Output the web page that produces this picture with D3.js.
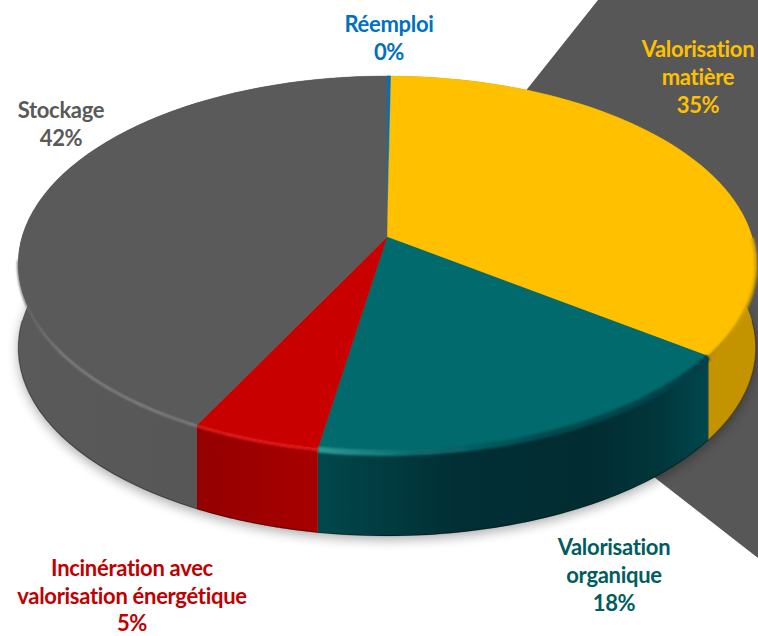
<!DOCTYPE html>
<html><head><meta charset="utf-8">
<script src="https://cdn.jsdelivr.net/npm/d3@7/dist/d3.min.js"></script>
<style>html,body{margin:0;padding:0;background:#fff}svg{display:block}
text{font-family:Lato,"Open Sans",sans-serif;font-weight:700;font-size:22px;text-anchor:middle;letter-spacing:-.3px}</style>
</head><body><svg id="c" width="758" height="636"></svg>
<script>
const categories = ["Réemploi","Valorisation matière","Valorisation organique","Incinération avec valorisation énergétique","Stockage"];
const values = [0.2,34.9,17.5,4.9,42.5];
const percentLabels = ["0%","35%","18%","5%","42%"];
const labelLines = [["Réemploi"],["Valorisation","matière"],["Valorisation","organique"],["Incinération avec","valorisation énergétique"],["Stockage"]];
const colors = ["#0070C0","#FFC000","#006A6C","#C80000","#5A5A5A"];
const textColors = ["#0070C0","#FFC000","#005C5E","#C00000","#595959"];
const wallStops = [
 [[0,"#005a9a"],[1,"#005a9a"]],
 [[0,"#a88000"],[1,"#c49400"]],
 [[0,"#01474d"],[.12,"#01373c"],[.3,"#012c32"],[.65,"#012f35"],[1,"#01484c"]],
 [[0,"#a80000"],[1,"#940000"]],
 [[0,"#5a5a5a"],[.6,"#565656"],[1,"#5e5e5e"]]
];
const rimStops = [
 [[0,"#0070C0"],[1,"#0070C0"]],
 [[0,"#b88c00"],[1,"#d6a400"]],
 [[0,"#2f9a98"],[.25,"#0a6a6c"],[.6,"#014a50"],[1,"#01404a"]],
 [[0,"#f02424"],[1,"#f02424"]],
 [[0,"#8c8c8c"],[.75,"#8c8c8c"],[.95,"#626262"],[1,"#5a5a5a"]]
];
const rimWidths = [0,3,6,2.2,1.8];
const labelAnchors = [[389,32],[698,57],[614,555],[132,576],[61,118]];
const labelSteps = [28.2,28.2,28.2,27.5,28.2];

const apex={x:387,y:237},K=365,KY=184.1,C=-0.1436,depth=84;
const svg=d3.select("#c");
const defs=svg.append("defs");
defs.append("filter").attr("id","sh").attr("x","-10%").attr("y","-10%").attr("width","120%").attr("height","130%")
  .append("feGaussianBlur").attr("stdDeviation",6);
defs.append("filter").attr("id","soft").attr("filterUnits","userSpaceOnUse").attr("x",0).attr("y",0).attr("width",758).attr("height",636)
  .append("feGaussianBlur").attr("stdDeviation",1.3);
defs.append("filter").attr("id","tiny").attr("filterUnits","userSpaceOnUse").attr("x",0).attr("y",0).attr("width",758).attr("height",636)
  .append("feGaussianBlur").attr("stdDeviation",.5);

// perspective projection of a pie angle on the disc
const proj=(a,dy=0)=>{const u=Math.sin(a),v=-Math.cos(a),d=1+C*v;
  return [apex.x+K*u/d, apex.y+KY*v/d+dy];};
const line=d3.line();
const pie=d3.pie().sort(null).startAngle(0).endAngle(2*Math.PI);
const arcs=pie(values);
const samples=(a0,a1)=>d3.range(0,61).map(i=>a0+(a1-a0)*i/60);
const addGrad=(id,x1,x2,stops)=>{
  defs.append("linearGradient").attr("id",id).attr("gradientUnits","userSpaceOnUse")
    .attr("x1",x1).attr("x2",x2).attr("y1",0).attr("y2",0)
    .selectAll("stop").data(stops).join("stop").attr("offset",s=>s[0]).attr("stop-color",s=>s[1]);
};
const frontPart=d=>[Math.max(d.startAngle,Math.PI/2),Math.min(d.endAngle,3*Math.PI/2)];

// background band
svg.append("path").attr("d",line([[598,0],[758,0],[758,558],[654,477],[387,260],[528,88]])+"Z").attr("fill","#575757");

// shadow
const full=samples(0,2*Math.PI);
svg.append("path").attr("d",line(full.map(a=>proj(a,depth+4)))+"Z").attr("fill","#000").attr("opacity",.32).attr("filter","url(#sh)");

const g=svg.append("g");
// walls
arcs.forEach((d,i)=>{
  const [x0,x1]=[proj(d.startAngle)[0],proj(d.endAngle)[0]];
  addGrad("w"+i,i===4?17:x0,x1,wallStops[i]);
  const as=samples(d.startAngle,d.endAngle);
  const pts=as.map(a=>proj(a)).concat(as.slice().reverse().map(a=>proj(a,depth)));
  g.append("path").attr("d",line(pts)+"Z").attr("fill",`url(#w${i})`);
});
// darker lower edge
g.append("path").attr("d",line(samples(Math.PI/2,3*Math.PI/2).map(a=>proj(a,depth-.3)))).attr("fill","none")
 .attr("stroke","#000").attr("stroke-opacity",.35).attr("stroke-width",1.2).attr("filter","url(#tiny)");

// top surface
arcs.forEach((d,i)=>{
  const pts=[[apex.x,apex.y]].concat(samples(d.startAngle,d.endAngle).map(a=>proj(a)));
  g.append("path").attr("d",line(pts)+"Z").attr("fill",colors[i]).attr("stroke",colors[i]).attr("stroke-width",i===0?1:.4);
});

// soft rim between surface and wall
arcs.forEach((d,i)=>{
  if(!rimWidths[i]) return;
  let [a0,a1]=frontPart(d);
  if(i===4) a1=Math.min(a1,3*Math.PI/2-.12);
  if(a1<=a0) return;
  const pts=samples(a0,a1).map(a=>proj(a,1));
  const left=Math.min(pts[0][0],pts[60][0]),right=Math.max(pts[0][0],pts[60][0]);
  addGrad("r"+i,i===4?right:left,i===4?left:right,rimStops[i]);
  g.append("path").attr("d",line(pts)).attr("fill","none")
   .attr("stroke",`url(#r${i})`).attr("stroke-width",rimWidths[i]).attr("filter","url(#soft)");
});

// labels
labelLines.forEach((lines,i)=>{
  const t=svg.append("text").attr("fill",textColors[i]);
  lines.concat([percentLabels[i]]).forEach((s,j)=>{
    t.append("tspan").attr("x",labelAnchors[i][0]).attr("y",labelAnchors[i][1]+j*labelSteps[i]).text(s);
  });
});
</script></body></html>
